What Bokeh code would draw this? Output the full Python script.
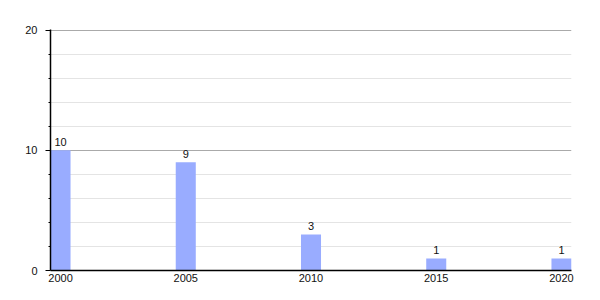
from bokeh.plotting import figure
from bokeh.models import ColumnDataSource, FixedTicker, Range1d, LabelSet
from bokeh.core.properties import value
from bokeh.embed import file_html
from bokeh.resources import INLINE

years = [2000, 2005, 2010, 2015, 2020]
counts = [10, 9, 3, 1, 1]
y_major = [0, 10, 20]
y_minor = [2, 4, 6, 8, 12, 14, 16, 18]

src = ColumnDataSource(dict(x=years, top=counts, label=[str(c) for c in counts]))

p = figure(width=600, height=300, output_backend="svg", toolbar_location=None,
           x_range=Range1d(1999.6, 2020.4), y_range=Range1d(0, 20.06),
           min_border_left=50, min_border_right=29, min_border_top=29, min_border_bottom=30)
p.outline_line_color = None
p.background_fill_color = "white"
p.border_fill_color = "white"

p.vbar(x="x", top="top", width=0.8, bottom=0, source=src, fill_color="#99acff", line_color=None)

FONT = "Liberation Sans"
labels = LabelSet(x="x", y="top", text="label", source=src, text_align="center",
                  text_baseline="alphabetic", y_offset=4, text_font_size=value("11px"),
                  text_font=value(FONT), text_color="#111111")
p.add_layout(labels)

p.xaxis.ticker = FixedTicker(ticks=years)
p.xaxis.major_tick_out = 0
p.xaxis.major_tick_in = 0
p.xaxis.minor_tick_out = 0
p.xaxis.minor_tick_in = 0
p.xaxis.axis_line_color = "black"
p.xaxis.axis_line_width = 1.5
p.xaxis.major_label_standoff = 3
p.xaxis.major_label_text_font = FONT
p.xaxis.major_label_text_font_size = "11px"
p.xaxis.major_label_text_color = "#111111"

p.yaxis.ticker = FixedTicker(ticks=y_major, minor_ticks=y_minor)
p.yaxis.major_tick_out = 5
p.yaxis.major_tick_in = 0
p.yaxis.minor_tick_out = 2
p.yaxis.minor_tick_in = 0
p.yaxis.axis_line_color = "black"
p.yaxis.axis_line_width = 1.5
p.yaxis.major_tick_line_color = "black"
p.yaxis.minor_tick_line_color = "black"
p.yaxis.major_label_standoff = 8
p.yaxis.major_label_text_font = FONT
p.yaxis.major_label_text_font_size = "11px"
p.yaxis.major_label_text_color = "#111111"

p.xgrid.grid_line_color = None
p.ygrid.grid_line_color = "#aaaaaa"
p.ygrid.minor_grid_line_color = "#e4e4e4"

open("out.html", "w").write(file_html(p, INLINE))
